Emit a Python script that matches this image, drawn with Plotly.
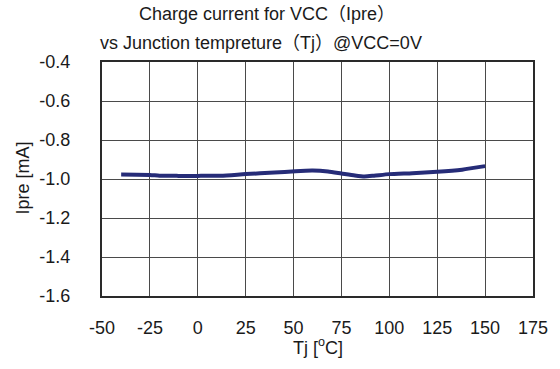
import plotly.graph_objects as go

# Junction temperature (°C) and charge current Ipre (mA)
tj = [-40, -25, -20, -10, 0, 12, 25, 40, 51, 60, 68, 75, 82, 87, 92, 100, 112, 125, 138, 150]
ipre = [-0.977, -0.979, -0.983, -0.984, -0.984, -0.983, -0.975, -0.967, -0.960, -0.957,
        -0.962, -0.972, -0.982, -0.987, -0.983, -0.975, -0.970, -0.963, -0.952, -0.934]

x_ticks = [-50, -25, 0, 25, 50, 75, 100, 125, 150, 175]
y_ticks = [-0.4, -0.6, -0.8, -1.0, -1.2, -1.4, -1.6]

FONT = "Liberation Sans, Arial, Noto Sans CJK JP, sans-serif"
GRID = "#4a4a4a"

fig = go.Figure()
fig.add_trace(go.Scatter(
    x=tj, y=ipre, mode="lines",
    line=dict(color="#262c78", width=4, shape="spline", smoothing=0.6),
    showlegend=False,
))

fig.update_layout(
    width=560, height=369,
    margin=dict(l=102, r=24, t=62, b=73),
    paper_bgcolor="white", plot_bgcolor="white",
    font=dict(family=FONT, size=18, color="#1a1a1a"),
    xaxis=dict(
        range=[-50, 175], tickvals=x_ticks, ticktext=[str(v) for v in x_ticks],
        showgrid=True, gridcolor=GRID, gridwidth=1,
        showline=True, linecolor="#2a2a2a", linewidth=2, mirror=True,
        ticks="outside", ticklen=14, tickcolor="rgba(0,0,0,0)",
        zeroline=False,
    ),
    yaxis=dict(
        range=[-1.6, -0.4], tickvals=y_ticks, ticktext=[f"{v:.1f}" for v in y_ticks],
        showgrid=True, gridcolor=GRID, gridwidth=1,
        showline=True, linecolor="#2a2a2a", linewidth=2, mirror=True,
        ticks="outside", ticklen=26, tickcolor="rgba(0,0,0,0)",
        zeroline=False,
    ),
    annotations=[
        dict(text="Charge current for VCC（Ipre）", xref="paper", yref="paper",
             x=(268 - 102) / 434, y=1 + (62 - 14) / 234, xanchor="center", yanchor="middle",
             showarrow=False, font=dict(size=18)),
        dict(text="vs Junction tempreture（Tj）@VCC=0V", xref="paper", yref="paper",
             x=(262 - 102) / 434, y=1 + (62 - 43) / 234, xanchor="center", yanchor="middle",
             showarrow=False, font=dict(size=18)),
        dict(text="Tj [<sup>o</sup>C]", xref="paper", yref="paper",
             x=(319 - 102) / 434, y=-(346 - 296) / 234, xanchor="center", yanchor="middle",
             showarrow=False, font=dict(size=18)),
        dict(text="Ipre [mA]", xref="paper", yref="paper", textangle=-90,
             x=-(102 - 22) / 434, y=(296 - 178) / 234, xanchor="center", yanchor="middle",
             showarrow=False, font=dict(size=18)),
    ],
)

fig.write_html("out.html")
